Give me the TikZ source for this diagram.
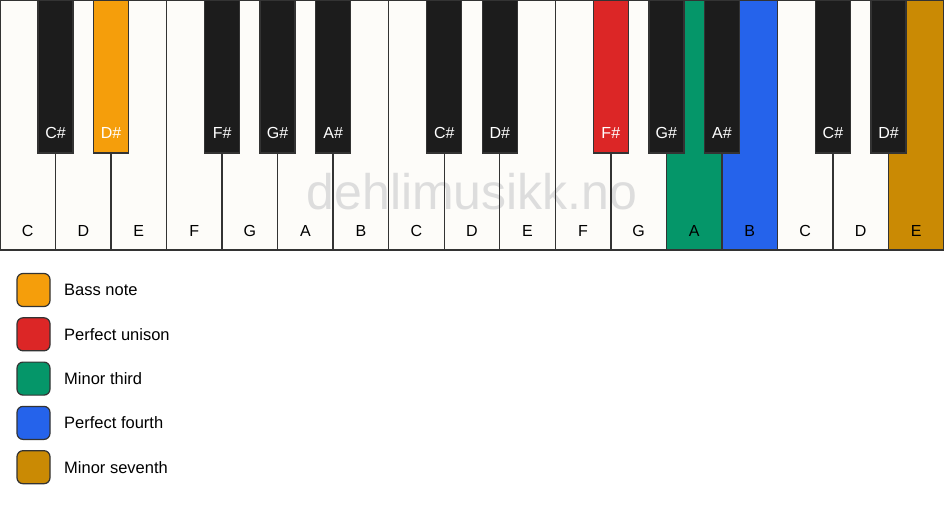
\documentclass[tikz,border=0pt]{standalone}
\usepackage{fontspec}
\setmainfont{Liberation Sans}
\definecolor{keywhite}{HTML}{FDFCF9}
\definecolor{keyblack}{HTML}{1C1C1C}
\definecolor{keyline}{HTML}{333333}
\definecolor{cbass}{HTML}{F59E0B}
\definecolor{cunison}{HTML}{DC2626}
\definecolor{cthird}{HTML}{059669}
\definecolor{cfourth}{HTML}{2563EB}
\definecolor{cseventh}{HTML}{CA8A04}
\definecolor{wm}{HTML}{DDDDDD}
\begin{document}
\begin{tikzpicture}[x=1pt,y=-1pt,
  whitekey/.style={draw=keyline,line width=1.4pt,fill=keywhite},
  blackkey/.style={draw=keyline,line width=1.4pt,fill=keyblack},
  wlabel/.style={font=\fontsize{16}{16}\selectfont,text=black},
  blabel/.style={font=\fontsize{16}{16}\selectfont,text=white},
  legbox/.style={draw=keyline,line width=1.2pt,rounded corners=6pt,minimum width=33pt,minimum height=33pt,inner sep=0pt},
  legtext/.style={font=\fontsize{16.5}{16.5}\selectfont,anchor=west,inner sep=0pt}]
\useasboundingbox (0,0) rectangle (944,506);
\fill[white] (0,0) rectangle (944,506);
\def\w{55.5294}
% white keys
\foreach \i/\n/\c in {0/C/keywhite,1/D/keywhite,2/E/keywhite,3/F/keywhite,4/G/keywhite,5/A/keywhite,6/B/keywhite,7/C/keywhite,8/D/keywhite,9/E/keywhite,10/F/keywhite,11/G/keywhite,12/A/cthird,13/B/cfourth,14/C/keywhite,15/D/keywhite,16/E/cseventh}{
  \draw[whitekey,fill=\c] ({\i*\w},0) rectangle ({(\i+1)*\w},250);
}
% watermark
\node[text=wm,font=\fontsize{50}{50}\selectfont] (wmark) at (472,192) {dehlimusikk.no};
% redraw key separators over watermark
\foreach \i in {1,...,16}{\draw[keyline,line width=1.4pt] ({\i*\w},153) -- ({\i*\w},250);}
\draw[keyline,line width=1.4pt] (0,250) -- (944,250);
% white labels
\foreach \i/\n in {0/C,1/D,2/E,3/F,4/G,5/A,6/B,7/C,8/D,9/E,10/F,11/G,12/A,13/B,14/C,15/D,16/E}{
  \node[wlabel] (w\i) at ({(\i+0.5)*\w},231) {\n};
}
% black keys
\foreach \b/\n/\c in {1/C\#/keyblack,2/D\#/cbass,4/F\#/keyblack,5/G\#/keyblack,6/A\#/keyblack,8/C\#/keyblack,9/D\#/keyblack,11/F\#/cunison,12/G\#/keyblack,13/A\#/keyblack,15/C\#/keyblack,16/D\#/keyblack}{
  \draw[blackkey,fill=\c] ({\b*\w-17.5},-1) rectangle ({\b*\w+17.5},153);
  \node[blabel] (b\b) at ({\b*\w},133) {\n};
}
% outer border
\draw[keyline,line width=1.4pt] (0,0) rectangle (944,250);
% legend
\foreach \k/\c/\t [count=\j from 0] in {a/cbass/Bass note,b/cunison/Perfect unison,c/cthird/Minor third,d/cfourth/Perfect fourth,e/cseventh/Minor seventh}{
  \node[legbox,fill=\c] (box\k) at (33.5,{290+\j*44.3}) {};
  \node[legtext] (txt\k) at (64,{290+\j*44.3}) {\t};
}
\end{tikzpicture}
\end{document}
